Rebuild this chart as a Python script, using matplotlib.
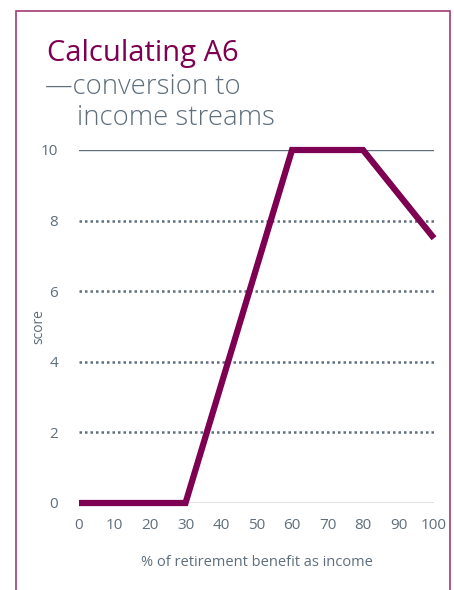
import matplotlib
matplotlib.use("Agg")
import matplotlib.pyplot as plt
from matplotlib.patches import Rectangle

plt.rcParams['font.family'] = ['Open Sans', 'DejaVu Sans']

# Score curve for converting retirement benefit to income streams
pct_income = [0, 30, 60, 80, 100]
score = [0, 0, 10, 10, 7.5]
x_ticks = [0, 10, 20, 30, 40, 50, 60, 70, 80, 90, 100]
y_ticks = [0, 2, 4, 6, 8, 10]

PURPLE = '#7d0052'
FRAME = '#a23a78'
GREY = '#5e6e7c'

W, H = 454, 590
fig = plt.figure(figsize=(W / 100, H / 100), dpi=100)

# Open border frame around the panel
fig.add_artist(Rectangle((16 / W, -0.05), (450 - 16) / W, 1.05 - 11 / H,
                         transform=fig.transFigure, fill=False,
                         edgecolor=FRAME, linewidth=1.2))

fig.text(47 / W, 1 - 54 / H, 'Calculating A6', color=PURPLE, fontsize=21,
         va='center', ha='left')
fig.text(45 / W, 1 - 87 / H, '\u2014conversion to', color=GREY, fontsize=19.8,
         va='center', ha='left', fontweight='light')
fig.text(77 / W, 1 - 118 / H, 'income streams', color=GREY, fontsize=19.8,
         va='center', ha='left', fontweight='light')

ax_left, ax_right = 79, 434
ax_top, ax_bot = 150, 503
ax = fig.add_axes([ax_left / W, 1 - ax_bot / H, (ax_right - ax_left) / W,
                   (ax_bot - ax_top) / H])
ax.set_xlim(0, 100)
ax.set_ylim(0, 10)
ax.patch.set_alpha(0)
for s in ax.spines.values():
    s.set_visible(False)

for y in y_ticks:
    if y in (0, 10):
        ax.axhline(y, color=GREY, linewidth=1.0, zorder=1)
    else:
        ax.axhline(y, color=GREY, linewidth=1.8, linestyle=(0, (1, 1.2)), zorder=1)

ax.plot(pct_income, score, color=PURPLE, linewidth=4.5,
        solid_capstyle='butt', solid_joinstyle='miter', zorder=3, clip_on=False)

ax.set_xticks(x_ticks)
ax.set_yticks(y_ticks)
ax.tick_params(length=0, labelsize=11, labelcolor=GREY)
ax.tick_params(axis='x', pad=11)
ax.tick_params(axis='y', pad=15)
ax.set_xlabel('% of retirement benefit as income', color=GREY, fontsize=10.5, labelpad=16)
ax.set_ylabel('score', color=GREY, fontsize=10, labelpad=-4)

fig.savefig('out.png', dpi=100)
